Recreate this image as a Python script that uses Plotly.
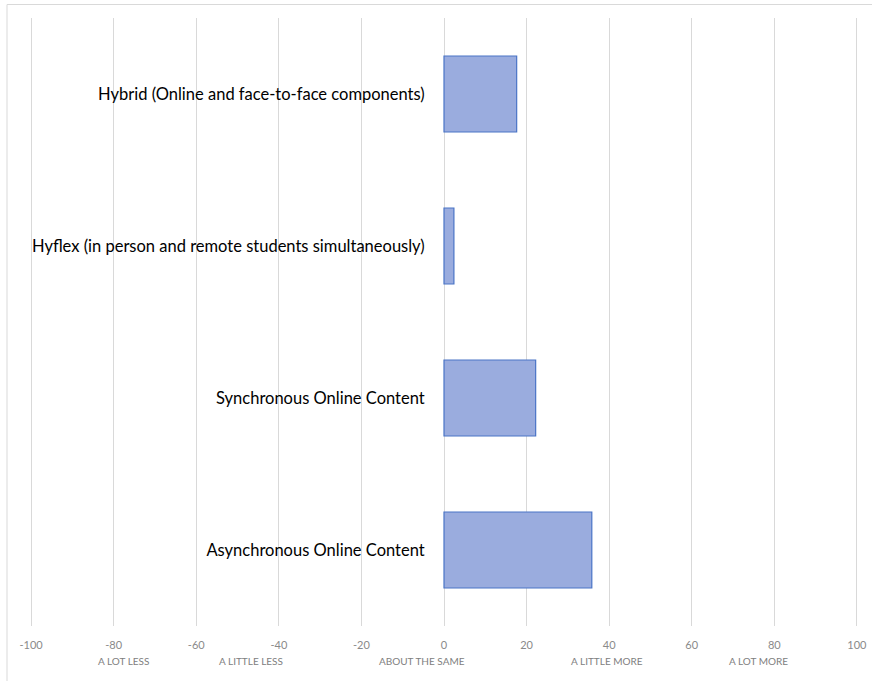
import plotly.graph_objects as go

categories = [
    "Asynchronous Online Content",
    "Synchronous Online Content",
    "Hyflex (in person and remote students simultaneously)",
    "Hybrid (Online and face-to-face components)",
]
values = [35.8, 22.2, 2.4, 17.6]

tick_vals = [-100, -80, -60, -40, -20, 0, 20, 40, 60, 80, 100]
tick_text = ["-100", "-80", "-60", "-40", "-20", "0", "20", "40", "60", "80", "100"]
scale_labels = ["A LOT LESS", "A LITTLE LESS", "ABOUT THE SAME", "A LITTLE MORE", "A LOT MORE"]
scale_label_x = [-77.6, -46.7, -5.3, 39.4, 76.1]

W, H = 872, 681
ML, MR, MT, MB = 27, 11, 18, 55
pw = W - ML - MR
ph = H - MT - MB

fig = go.Figure()
fig.add_trace(go.Bar(
    y=categories, x=values, orientation="h",
    marker=dict(color="#9aacde", line=dict(color="#4a74c6", width=1.2)),
    hoverinfo="x+y",
))

for lab, xv in zip(scale_labels, scale_label_x):
    fig.add_annotation(x=xv, xref="x", y=(626 - 661) / ph, yref="paper",
                       text=lab, showarrow=False, yanchor="middle", xanchor="center",
                       font=dict(family="Lato", size=10, color="#808080"))

# outer chart border
fig.add_shape(type="rect", xref="paper", yref="paper",
              x0=(7 - ML) / pw, x1=(W + 10 - ML) / pw,
              y0=(626 - (H + 10)) / ph, y1=(626 - 4.5) / ph,
              line=dict(color="#d9d9d9", width=1), fillcolor="rgba(0,0,0,0)", layer="below")

fig.update_layout(
    width=W, height=H,
    margin=dict(l=ML, r=MR, t=MT, b=MB, autoexpand=False),
    paper_bgcolor="white", plot_bgcolor="white",
    bargap=0.5,
    showlegend=False,
    xaxis=dict(range=[-101, 101], tickvals=tick_vals, ticktext=tick_text,
               showgrid=True, gridcolor="#d9d9d9", automargin=False,
               gridwidth=1, zeroline=False, showline=False,
               tickfont=dict(family="Lato", size=11, color="#8a8a8a"),
               ticks="outside", ticklen=9, tickcolor="rgba(0,0,0,0)"),
    yaxis=dict(anchor="free", position=0.5, showgrid=False, zeroline=False, showline=False,
               automargin=False,
               tickfont=dict(family="Lato", size=16.5, color="#000000"),
               ticks="outside", ticklen=16, tickcolor="rgba(0,0,0,0)"),
)

fig.write_html("out.html")
